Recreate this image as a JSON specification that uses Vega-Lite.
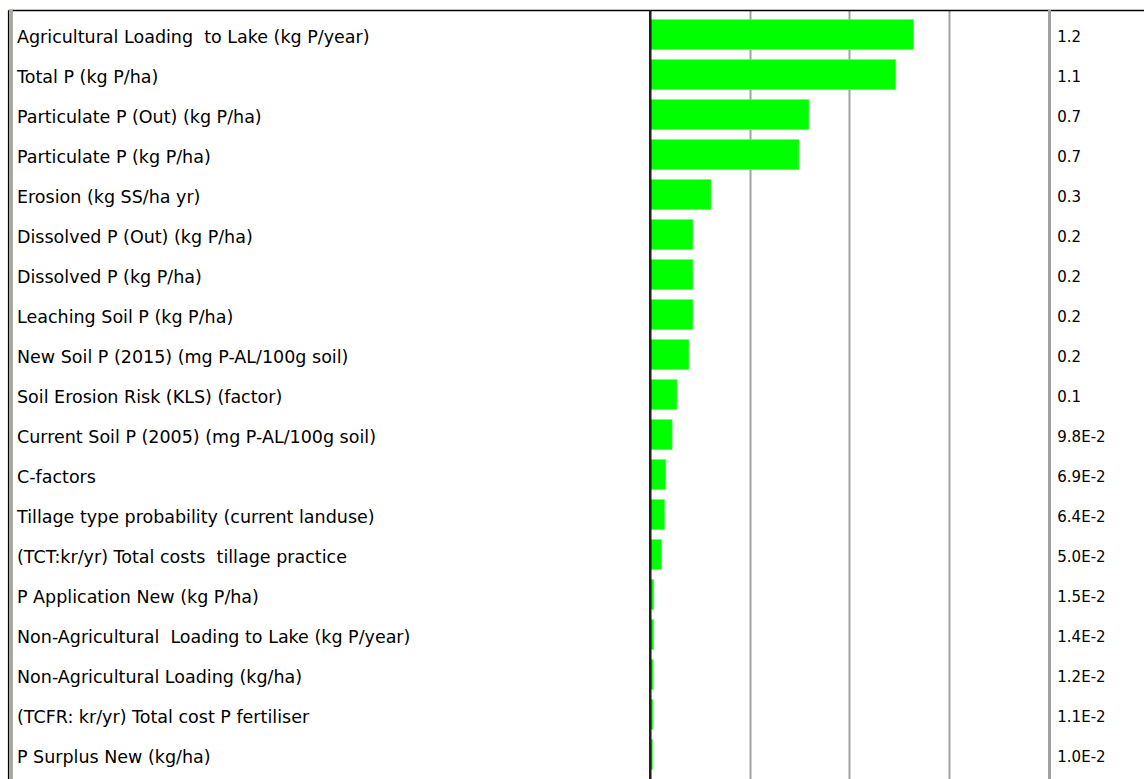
{
  "$schema": "https://vega.github.io/schema/vega-lite/v6.json",
  "autosize": {"type": "none"},
  "padding": {"left": 8, "top": 10, "right": 0, "bottom": 0},
  "width": 1136,
  "height": 769,
  "background": "white",
  "config": {"view": {"stroke": null}, "font": "DejaVu Sans"},
  "data": {"values": [
    {"label": "Agricultural Loading\u00a0 to Lake (kg P/year)", "value": 1.19, "display": "1.2"},
    {"label": "Total P (kg P/ha)", "value": 1.11, "display": "1.1"},
    {"label": "Particulate P (Out) (kg P/ha)", "value": 0.717, "display": "0.7"},
    {"label": "Particulate P (kg P/ha)", "value": 0.672, "display": "0.7"},
    {"label": "Erosion (kg SS/ha yr)", "value": 0.274, "display": "0.3"},
    {"label": "Dissolved P (Out) (kg P/ha)", "value": 0.192, "display": "0.2"},
    {"label": "Dissolved P (kg P/ha)", "value": 0.192, "display": "0.2"},
    {"label": "Leaching Soil P (kg P/ha)", "value": 0.192, "display": "0.2"},
    {"label": "New Soil P (2015) (mg P-AL/100g soil)", "value": 0.174, "display": "0.2"},
    {"label": "Soil Erosion Risk (KLS) (factor)", "value": 0.12, "display": "0.1"},
    {"label": "Current Soil P (2005) (mg P-AL/100g soil)", "value": 0.098, "display": "9.8E-2"},
    {"label": "C-factors", "value": 0.069, "display": "6.9E-2"},
    {"label": "Tillage type probability (current landuse)", "value": 0.064, "display": "6.4E-2"},
    {"label": "(TCT:kr/yr) Total costs\u00a0 tillage practice", "value": 0.05, "display": "5.0E-2"},
    {"label": "P Application New (kg P/ha)", "value": 0.015, "display": "1.5E-2"},
    {"label": "Non-Agricultural\u00a0 Loading to Lake (kg P/year)", "value": 0.014, "display": "1.4E-2"},
    {"label": "Non-Agricultural Loading (kg/ha)", "value": 0.012, "display": "1.2E-2"},
    {"label": "(TCFR: kr/yr) Total cost P fertiliser", "value": 0.011, "display": "1.1E-2"},
    {"label": "P Surplus New (kg/ha)", "value": 0.01, "display": "1.0E-2"}
  ]},
  "layer": [
    {
      "mark": {"type": "bar", "color": "#00ff00", "stroke": "#66ff66", "strokeWidth": 0.6},
      "encoding": {
        "y": {
          "field": "label", "type": "nominal", "sort": null,
          "scale": {"paddingInner": 0.25, "paddingOuter": 0.2375},
          "axis": {"labels": false, "ticks": false, "grid": false, "title": null, "domain": true, "domainColor": "#000000", "domainWidth": 1.2}
        },
        "x": {
          "field": "value", "type": "quantitative",
          "scale": {"domain": [-2.907, 2.233], "nice": false, "zero": false},
          "axis": {"orient": "top", "title": null, "labels": false, "ticks": false, "domain": true, "domainColor": "#000000", "domainWidth": 1.6, "grid": true, "values": [0.45, 0.9, 1.35], "gridColor": "#a0a0a0", "gridWidth": 2}
        },
        "x2": {"datum": 0}
      }
    },
    {
      "mark": {"type": "rule", "color": "#a8a8a0", "strokeWidth": 3},
      "encoding": {"x": {"datum": -2.895}}
    },
    {
      "mark": {"type": "rule", "color": "#202020", "strokeWidth": 2},
      "encoding": {"x": {"datum": -0.002}}
    },
    {
      "mark": {"type": "rule", "color": "#a0a0a0", "strokeWidth": 2},
      "encoding": {"x": {"datum": 1.805}}
    },
    {
      "mark": {"type": "text", "align": "left", "baseline": "middle", "dx": 9, "dy": 3, "fontSize": 17.5, "color": "#000000"},
      "encoding": {
        "y": {"field": "label", "type": "nominal", "sort": null},
        "x": {"datum": -2.907},
        "text": {"field": "label"}
      }
    },
    {
      "mark": {"type": "text", "align": "left", "baseline": "middle", "dx": 9, "dy": 2, "fontSize": 15, "color": "#000000"},
      "encoding": {
        "y": {"field": "label", "type": "nominal", "sort": null},
        "x": {"datum": 1.8},
        "text": {"field": "display"}
      }
    }
  ]
}
